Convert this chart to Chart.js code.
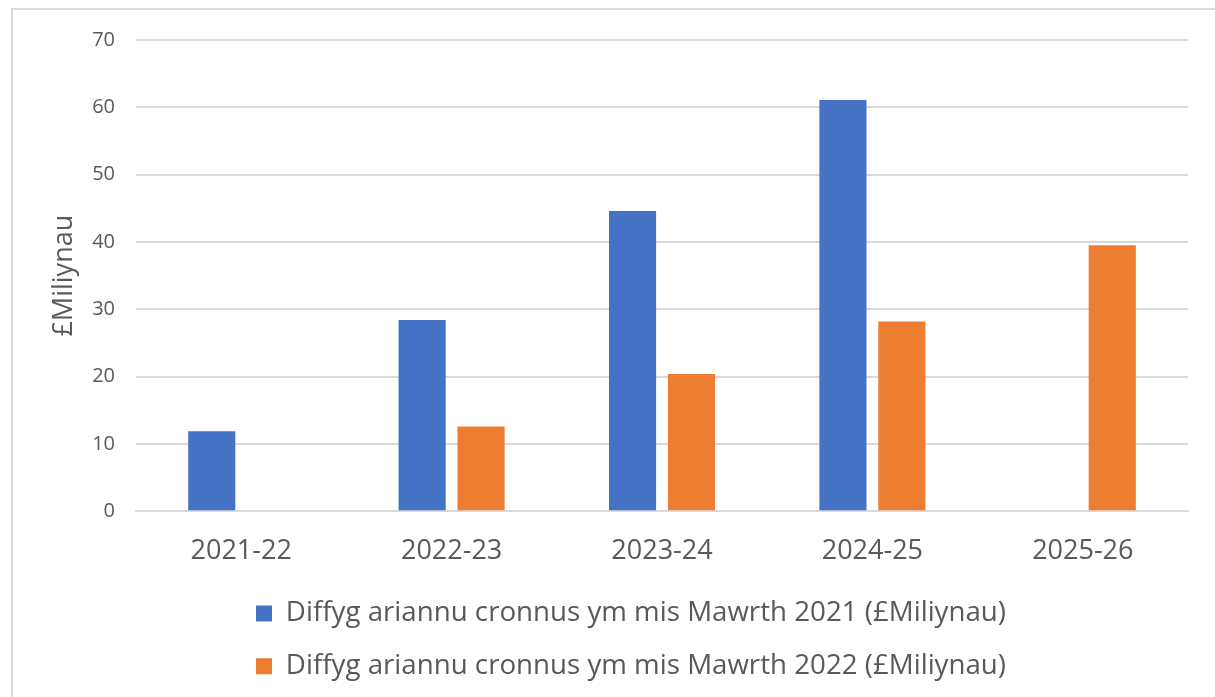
<!DOCTYPE html>
<html>
<head>
<meta charset="utf-8">
<script src="https://cdn.jsdelivr.net/npm/chart.js@4"></script>
<style>
  html, body { margin: 0; padding: 0; background: #fff; overflow: hidden; }
  #frame {
    position: absolute; left: 11px; top: 8px;
    width: 1210px; height: 700px;
    border-left: 2px solid #d9d9d9; border-top: 2px solid #d9d9d9;
  }
  #wrap { position: absolute; left: 13px; top: 7px; width: 1202px; height: 691px; }
</style>
</head>
<body>
<div id="frame"></div>
<div id="wrap"><canvas id="deficitChart"></canvas></div>
<script>
const years = ['2021-22', '2022-23', '2023-24', '2024-25', '2025-26'];
const march2021 = [11.9, 28.4, 44.6, 61.1, null];
const march2022 = [null, 12.6, 20.4, 28.2, 39.5];
const seriesNames = [
    'Diffyg ariannu cronnus ym mis Mawrth 2021 (£Miliynau)',
    'Diffyg ariannu cronnus ym mis Mawrth 2022 (£Miliynau)'
];
const axisTitle = '£Miliynau';

const grey = '#595959';
const gridGrey = '#d9d9d9';
Chart.defaults.font.family = '"Open Sans", sans-serif';
Chart.defaults.color = grey;

// move the legend a bit right and up, like the original
const legendShift = {
    id: 'legendShift',
    afterUpdate(chart) {
        const lg = chart.legend;
        lg.left += 13;
        lg.right += 13;
        lg.top -= 8;
        lg.bottom -= 8;
    }
};

const ctx = document.getElementById('deficitChart').getContext('2d');

new Chart(ctx, {
    type: 'bar',
    data: {
        labels: years,
        datasets: [{
            label: seriesNames[0],
            data: march2021,
            backgroundColor: '#4472c4'
        }, {
            label: seriesNames[1],
            data: march2022,
            backgroundColor: '#ed7d31'
        }]
    },
    options: {
        responsive: true,
        maintainAspectRatio: false,
        animation: false,
        categoryPercentage: 0.56,
        barPercentage: 0.8,
        layout: {
            padding: { top: 12, right: 27, left: 35, bottom: 0 }
        },
        plugins: {
            tooltip: { enabled: false },
            legend: {
                position: 'bottom',
                labels: {
                    boxWidth: 16,
                    boxHeight: 16,
                    padding: 25,
                    font: { size: 27.7 },
                    color: grey
                }
            }
        },
        scales: {
            y: {
                min: 0,
                max: 70,
                afterFit(scale) {
                    scale.width = 88;
                },
                ticks: {
                    stepSize: 10,
                    padding: 21,
                    font: { size: 20 }
                },
                border: { display: false },
                grid: {
                    color: gridGrey,
                    lineWidth: 2,
                    drawTicks: false
                },
                title: {
                    display: true,
                    text: axisTitle,
                    font: { size: 27 },
                    padding: { top: 0, bottom: 0 }
                }
            },
            x: {
                ticks: {
                    padding: 23,
                    font: { size: 27, lineHeight: 0.64 }
                },
                border: { color: gridGrey, width: 2 },
                grid: { display: false }
            }
        }
    },
    plugins: [legendShift]
});
</script>
</body>
</html>
